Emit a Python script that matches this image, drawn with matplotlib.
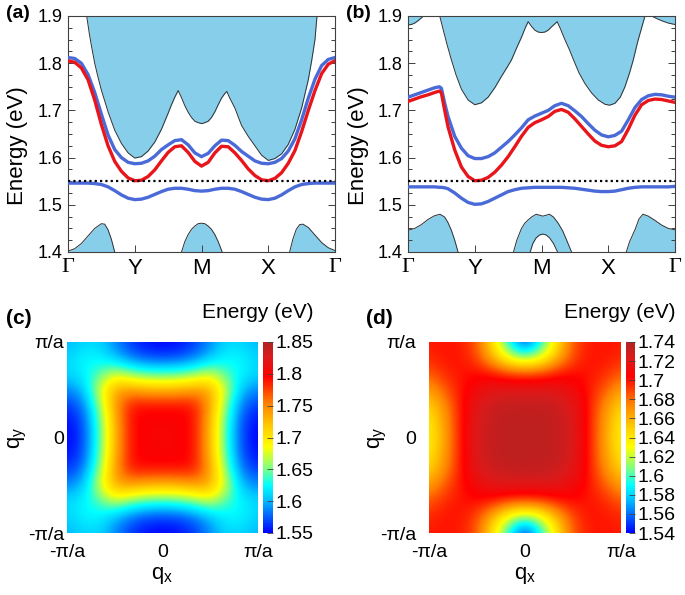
import numpy as np
import matplotlib
matplotlib.use('Agg')
import matplotlib.pyplot as plt
from matplotlib.colors import LinearSegmentedColormap
from matplotlib.ticker import MultipleLocator, FormatStrFormatter

plt.rcParams['font.family'] = ['Liberation Sans', 'DejaVu Sans']
plt.rcParams['mathtext.fontset'] = 'custom'
plt.rcParams['mathtext.rm'] = 'Liberation Sans'
plt.rcParams['mathtext.it'] = 'Liberation Sans'
plt.rcParams['mathtext.default'] = 'regular'

# ---------------- band structure data (x in path units G-Y-M-X-G = 0..4) ----------------
k_ticks = [0, 1, 2, 3, 4]
k_labels = ['Γ', 'Y', 'M', 'X', 'Γ']
k41 = np.linspace(0, 4, 41)  # sampling positions of the read values

# panel (a)
a_blue_hi = [1.812, 1.810, 1.800, 1.776, 1.738, 1.692, 1.648, 1.617, 1.600, 1.590,
             1.587, 1.588, 1.593, 1.603, 1.617, 1.627, 1.636, 1.638, 1.627, 1.610,
             1.602, 1.609, 1.625, 1.637, 1.636, 1.626, 1.613, 1.603, 1.593, 1.588,
             1.587, 1.590, 1.598, 1.614, 1.640, 1.680, 1.726, 1.766, 1.795, 1.808, 1.812]
a_red = [1.805, 1.802, 1.790, 1.765, 1.722, 1.670, 1.625, 1.592, 1.571, 1.557,
         1.551, 1.552, 1.560, 1.574, 1.593, 1.611, 1.623, 1.625, 1.611, 1.592,
         1.582, 1.590, 1.610, 1.624, 1.623, 1.610, 1.594, 1.576, 1.562, 1.553,
         1.551, 1.556, 1.568, 1.588, 1.615, 1.655, 1.700, 1.742, 1.778, 1.798, 1.805]
a_blue_lo = [1.546, 1.546, 1.546, 1.546, 1.545, 1.543, 1.538, 1.530, 1.521, 1.514,
             1.511, 1.512, 1.516, 1.522, 1.528, 1.533, 1.535, 1.535, 1.533, 1.530,
             1.529, 1.530, 1.533, 1.535, 1.535, 1.533, 1.528, 1.522, 1.516, 1.512,
             1.511, 1.514, 1.521, 1.530, 1.538, 1.543, 1.545, 1.546, 1.546, 1.546, 1.546]

a_top_x = [0.28, 0.32, 0.36, 0.40, 0.45, 0.50, 0.60, 0.70, 0.80, 0.90, 1.00, 1.10, 1.20,
           1.30, 1.40, 1.50, 1.55, 1.60, 1.65, 1.70, 1.75, 1.80, 1.85, 1.90, 1.95, 2.00,
           2.05, 2.10, 2.15, 2.20, 2.25, 2.30, 2.35, 2.38, 2.42, 2.50, 2.60, 2.70, 2.80,
           2.90, 3.00, 3.10, 3.20, 3.30, 3.40, 3.50, 3.60, 3.65, 3.70, 3.73]
a_top_y = [1.900, 1.862, 1.830, 1.800, 1.770, 1.743, 1.697, 1.658, 1.630, 1.610, 1.599,
           1.602, 1.614, 1.633, 1.660, 1.694, 1.712, 1.728, 1.742, 1.727, 1.710, 1.696,
           1.685, 1.677, 1.674, 1.672, 1.674, 1.677, 1.685, 1.697, 1.712, 1.726, 1.736,
           1.740, 1.727, 1.705, 1.668, 1.645, 1.625, 1.605, 1.594, 1.598, 1.608, 1.628,
           1.660, 1.705, 1.765, 1.805, 1.850, 1.900]

a_bot1_x = [0.0, 0.1, 0.2, 0.3, 0.4, 0.5, 0.55, 0.6, 0.65, 0.7]
a_bot1_y = [1.402, 1.407, 1.418, 1.434, 1.450, 1.460, 1.459, 1.447, 1.427, 1.400]
a_bot2_x = [1.70, 1.75, 1.80, 1.85, 1.90, 1.95, 2.00, 2.05, 2.10, 2.15, 2.20, 2.25, 2.31]
a_bot2_y = [1.400, 1.422, 1.437, 1.448, 1.455, 1.460, 1.461, 1.460, 1.455, 1.448, 1.437, 1.422, 1.400]
a_bot3_x = [3.32, 3.37, 3.42, 3.47, 3.52, 3.6, 3.7, 3.8, 3.9, 4.0]
a_bot3_y = [1.400, 1.428, 1.448, 1.458, 1.459, 1.452, 1.436, 1.420, 1.409, 1.403]

# panel (b)
b_line_x = [0.0, 0.1, 0.2, 0.3, 0.4, 0.47, 0.50, 0.55, 0.60, 0.70, 0.80, 0.90, 1.00,
            1.10, 1.20, 1.30, 1.40, 1.50, 1.60, 1.70, 1.80, 1.90, 2.00, 2.10, 2.20,
            2.30, 2.40, 2.50, 2.60, 2.70, 2.80, 2.90, 3.00, 3.10, 3.20, 3.30, 3.40,
            3.50, 3.60, 3.70, 3.80, 3.90, 4.00]
b_blue_hi = [1.728, 1.733, 1.738, 1.743, 1.748, 1.750, 1.747, 1.715, 1.687, 1.645, 1.620,
             1.604, 1.598, 1.598, 1.602, 1.610, 1.622, 1.634, 1.648, 1.663, 1.680, 1.688,
             1.694, 1.700, 1.710, 1.715, 1.710, 1.699, 1.687, 1.672, 1.658, 1.648, 1.644,
             1.647, 1.656, 1.680, 1.706, 1.723, 1.731, 1.734, 1.733, 1.730, 1.728]
b_red = [1.719, 1.724, 1.729, 1.733, 1.738, 1.741, 1.737, 1.700, 1.665, 1.616, 1.580,
         1.560, 1.551, 1.552, 1.558, 1.569, 1.584, 1.602, 1.623, 1.645, 1.664, 1.674,
         1.680, 1.687, 1.698, 1.702, 1.696, 1.682, 1.666, 1.650, 1.635, 1.626, 1.623,
         1.625, 1.634, 1.660, 1.690, 1.712, 1.721, 1.724, 1.723, 1.720, 1.717]
b_blue_lo = [1.538, 1.538, 1.538, 1.538, 1.538, 1.537, 1.537, 1.536, 1.534, 1.525, 1.514,
             1.505, 1.501, 1.502, 1.507, 1.514, 1.521, 1.528, 1.532, 1.535, 1.536, 1.537,
             1.537, 1.537, 1.537, 1.537, 1.536, 1.535, 1.533, 1.531, 1.529, 1.528, 1.528,
             1.529, 1.532, 1.535, 1.537, 1.538, 1.538, 1.538, 1.538, 1.538, 1.539]

b_topL_x = [0.0, 0.05, 0.1, 0.15, 0.2, 0.23]
b_topL_y = [1.881, 1.882, 1.885, 1.890, 1.896, 1.900]
b_top_x = [0.475, 0.52, 0.58, 0.65, 0.72, 0.80, 0.90, 1.00, 1.10, 1.20, 1.30, 1.40, 1.50,
           1.55, 1.62, 1.70, 1.76, 1.80, 1.85, 1.90, 1.95, 2.00, 2.05, 2.10, 2.15, 2.235,
           2.28, 2.35, 2.42, 2.48, 2.56, 2.65, 2.75, 2.85, 2.95, 3.02, 3.10, 3.18, 3.25,
           3.32, 3.375, 3.44, 3.50, 3.55]
b_top_y = [1.900, 1.875, 1.842, 1.807, 1.775, 1.745, 1.722, 1.712, 1.716, 1.728, 1.748,
           1.772, 1.795, 1.807, 1.830, 1.855, 1.876, 1.888, 1.878, 1.870, 1.866, 1.865,
           1.866, 1.870, 1.877, 1.888, 1.874, 1.850, 1.828, 1.807, 1.780, 1.757, 1.737,
           1.722, 1.713, 1.711, 1.715, 1.728, 1.750, 1.780, 1.807, 1.845, 1.875, 1.900]
b_topR_x = [3.65, 3.72, 3.80, 3.90, 4.00]
b_topR_y = [1.900, 1.895, 1.890, 1.885, 1.882]

b_bot1_x = [0.0, 0.1, 0.2, 0.3, 0.4, 0.48, 0.55, 0.6, 0.65, 0.7, 0.75]
b_bot1_y = [1.446, 1.450, 1.458, 1.469, 1.477, 1.480, 1.474, 1.462, 1.446, 1.425, 1.400]
b_bot2_x = [1.58, 1.63, 1.70, 1.75, 1.80, 1.85, 1.92, 1.97, 2.02, 2.07, 2.12, 2.18, 2.25,
            2.32, 2.38, 2.45]
b_bot2_y = [1.400, 1.425, 1.450, 1.461, 1.468, 1.474, 1.480, 1.478, 1.476, 1.478, 1.480,
            1.474, 1.461, 1.444, 1.424, 1.400]
b_hole_x = [1.83, 1.87, 1.92, 1.97, 2.02, 2.07, 2.12, 2.18, 2.24]
b_hole_y = [1.400, 1.418, 1.430, 1.436, 1.438, 1.436, 1.430, 1.418, 1.400]
b_bot3_x = [3.27, 3.32, 3.40, 3.46, 3.52, 3.6, 3.7, 3.8, 3.9, 4.0]
b_bot3_y = [1.400, 1.422, 1.447, 1.470, 1.480, 1.476, 1.467, 1.457, 1.450, 1.447]

e_ref = 1.55

# ---------------- 2D maps: quadrant 0..pi/a (rows q_y, cols q_x, step pi/6) ----------------
c_quad = [[1.800, 1.800, 1.792, 1.728, 1.635, 1.566, 1.550],
          [1.800, 1.800, 1.792, 1.730, 1.638, 1.569, 1.553],
          [1.792, 1.792, 1.790, 1.740, 1.650, 1.580, 1.565],
          [1.728, 1.730, 1.740, 1.735, 1.670, 1.600, 1.588],
          [1.635, 1.638, 1.650, 1.670, 1.640, 1.622, 1.610],
          [1.566, 1.569, 1.580, 1.600, 1.622, 1.622, 1.608],
          [1.550, 1.553, 1.565, 1.588, 1.610, 1.608, 1.598]]
d_quad = [[1.735, 1.735, 1.733, 1.725, 1.700, 1.665, 1.635],
          [1.735, 1.735, 1.733, 1.725, 1.700, 1.667, 1.638],
          [1.733, 1.733, 1.730, 1.722, 1.700, 1.672, 1.648],
          [1.722, 1.722, 1.720, 1.712, 1.700, 1.685, 1.665],
          [1.688, 1.690, 1.698, 1.702, 1.700, 1.695, 1.685],
          [1.605, 1.622, 1.658, 1.688, 1.700, 1.700, 1.695],
          [1.542, 1.590, 1.640, 1.686, 1.698, 1.700, 1.698]]
c_ticks = [1.55, 1.6, 1.65, 1.7, 1.75, 1.8, 1.85]
d_ticks = [1.54, 1.56, 1.58, 1.6, 1.62, 1.64, 1.66, 1.68, 1.7, 1.72, 1.74]
q_ticks = [-1, 0, 1]
q_labels = ['-π/a', '0', 'π/a']

FILL = '#87ceeb'
EDGE = '#303030'
RED = '#e8161b'
BLUE = '#4a6ad8'
FS = 13

cmap = LinearSegmentedColormap.from_list('jetlike', [
    (0.00, '#0000ff'), (0.10, '#0070ff'), (0.18, '#00c8ff'), (0.25, '#00ffff'),
    (0.34, '#80ff80'), (0.45, '#ffff00'), (0.55, '#ffd000'), (0.68, '#ff8000'),
    (0.82, '#ff0000'), (0.92, '#dc1a1a'), (1.00, '#b22222')])

W, H = 685.0, 595.0
fig = plt.figure(figsize=(W / 100, H / 100), dpi=100)


def box(l, t, r, b):
    return [l / W, 1 - b / H, (r - l) / W, (b - t) / H]


def band_panel(ax, tops, bots, holes, xl, red, bhi, blo):
    for x, y in tops:
        ax.fill_between(x, y, 1.9, color=FILL, lw=0, zorder=1)
        ax.plot(x, y, color=EDGE, lw=0.7, zorder=1.5)
    for x, y in bots:
        ax.fill_between(x, 1.4, y, color=FILL, lw=0, zorder=1)
        ax.plot(x, y, color=EDGE, lw=0.7, zorder=1.5)
    for x, y in holes:
        ax.fill_between(x, 1.4, y, color='white', lw=0, zorder=1.2)
        ax.plot(x, y, color=EDGE, lw=0.7, zorder=1.5)
    ax.plot(xl, bhi, color=BLUE, lw=2.4, zorder=3)
    ax.plot(xl, red, color=RED, lw=2.4, zorder=3)
    ax.plot(xl, blo, color=BLUE, lw=2.4, zorder=3)
    ax.axhline(e_ref, color='k', lw=1.6, ls=(0, (1, 1.4)), zorder=4)
    ax.set_xlim(0, 4)
    ax.set_ylim(1.4, 1.9)
    ax.set_xticks(k_ticks)
    ax.set_xticklabels(k_labels, fontsize=16)
    for lbl in ax.get_xticklabels():
        if lbl.get_text() == 'Γ':
            lbl.set_fontfamily('Liberation Serif')
    ax.yaxis.set_major_locator(MultipleLocator(0.1))
    ax.yaxis.set_minor_locator(MultipleLocator(0.025))
    ax.yaxis.set_major_formatter(FormatStrFormatter('%.1f'))
    ax.tick_params(which='both', direction='in', right=True, top=False,
                   color='#404040', width=0.7)
    ax.tick_params(axis='y', labelsize=FS, pad=4)
    ax.tick_params(which='major', length=5)
    ax.tick_params(which='minor', length=3)
    ax.tick_params(axis='x', pad=4)
    for s in ax.spines.values():
        s.set_color('#404040')
        s.set_linewidth(0.8)


ax_a = fig.add_axes(box(68, 16, 335, 252))
band_panel(ax_a,
           [(a_top_x, a_top_y)],
           [(a_bot1_x, a_bot1_y), (a_bot2_x, a_bot2_y), (a_bot3_x, a_bot3_y)],
           [], k41, a_red, a_blue_hi, a_blue_lo)

ax_b = fig.add_axes(box(408, 16, 675, 252))
band_panel(ax_b,
           [(b_topL_x, b_topL_y), (b_top_x, b_top_y), (b_topR_x, b_topR_y)],
           [(b_bot1_x, b_bot1_y), (b_bot2_x, b_bot2_y), (b_bot3_x, b_bot3_y)],
           [(b_hole_x, b_hole_y)], b_line_x, b_red, b_blue_hi, b_blue_lo)

fig.text(18 / W, 1 - 146 / H, 'Energy (eV)', rotation=90, ha='center', va='center', fontsize=16)
fig.text(358 / W, 1 - 146 / H, 'Energy (eV)', rotation=90, ha='center', va='center', fontsize=16)


def full_grid(quad):
    q = np.array(quad)
    q = np.concatenate([q[:0:-1], q], axis=0)
    q = np.concatenate([q[:, :0:-1], q], axis=1)
    return q


def map_panel(ax, cax, quad, vmin, vmax, ticks, ypad):
    z = full_grid(quad)
    h = 1.0 / 6
    im = ax.imshow(z, origin='lower', extent=[-1 - h / 2, 1 + h / 2, -1 - h / 2, 1 + h / 2],
                   cmap=cmap, vmin=vmin, vmax=vmax, interpolation='bicubic', aspect='auto')
    ax.set_xlim(-1, 1)
    ax.set_ylim(-1, 1)
    ax.set_xticks(q_ticks)
    ax.set_xticklabels(q_labels)
    ax.set_yticks(q_ticks)
    ax.set_yticklabels(q_labels)
    ax.tick_params(axis='x', length=0, pad=8, labelsize=14)
    ax.tick_params(axis='y', length=0, pad=ypad, labelsize=14)
    for s in ax.spines.values():
        s.set_visible(False)
    cb = fig.colorbar(im, cax=cax)
    cb.set_ticks(ticks)
    cb.ax.yaxis.set_major_formatter(FormatStrFormatter('%g'))
    cb.outline.set_visible(False)
    cb.ax.tick_params(direction='in', length=4, width=0.6, color='#404040', pad=2, labelsize=14)


ax_c = fig.add_axes(box(67, 342, 258, 533))
cax_c = fig.add_axes(box(263, 342, 273, 533))
map_panel(ax_c, cax_c, c_quad, 1.55, 1.85, c_ticks, 2)

ax_d = fig.add_axes(box(429, 342, 621, 533))
cax_d = fig.add_axes(box(626, 342, 635, 533))
map_panel(ax_d, cax_d, d_quad, 1.54, 1.74, d_ticks, 9)

for x in (18, 378):
    fig.text(x / W, 1 - 438 / H, 'q$_y$', rotation=90, ha='center', va='center', fontsize=16)
fig.text(162.5 / W, 1 - 576 / H, 'q$_x$', ha='center', va='center', fontsize=16)
fig.text(525 / W, 1 - 576 / H, 'q$_x$', ha='center', va='center', fontsize=16)

fig.text(313 / W, 1 - 312 / H, 'Energy (eV)', ha='right', va='center', fontsize=15)
fig.text(675 / W, 1 - 312 / H, 'Energy (eV)', ha='right', va='center', fontsize=15)

for x, y, s, fs in [(6, 14, '(a)', 14), (346, 14, '(b)', 14),
                    (6, 318, '(c)', 15), (366, 318, '(d)', 15)]:
    fig.text(x / W, 1 - y / H, s, ha='left', va='center', fontsize=fs, fontweight='bold')

fig.savefig('out.png', dpi=100)
